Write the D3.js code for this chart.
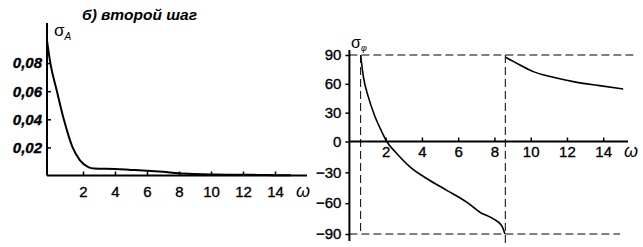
<!DOCTYPE html>
<html>
<head>
<meta charset="utf-8">
<script src="https://cdn.jsdelivr.net/npm/d3@7"></script>
<style>
  body { margin: 0; background: #fff; }
  svg { display: block; font-family: "Liberation Sans", Arial, sans-serif; }
  .axis path { display: none; }
  .axis line { stroke: #000; stroke-width: 1.5; }
  .axis text { fill: #000; stroke: #000; stroke-width: 0.35; }
</style>
</head>
<body>
<div id="chart"></div>
<script>
// left panel: amplitude sigma_A vs omega
var ampOmega = [-0.25, -0.04, 0.37, 0.8, 1.35, 1.8, 2.33, 2.7, 4, 5, 6, 7, 8, 9, 10, 11, 12, 13, 14, 15];
var ampValue = [0.096, 0.08, 0.06, 0.04, 0.02, 0.011, 0.006, 0.005, 0.0046, 0.004, 0.0034, 0.0026, 0.0016, 0.0011, 0.0008, 0.0006, 0.0005, 0.0004, 0.0002, 0.0001];
var ampYTicks = [0.02, 0.04, 0.06, 0.08];
var ampXTicks = [2, 4, 6, 8, 10, 12, 14];

// right panel: phase sigma_phi vs omega, two branches
var phaseOmega1 = [0.62, 0.77, 1.04, 1.41, 1.78, 2.06, 2.6, 3.34, 4.26, 5.37, 6.47, 7.2, 7.94, 8.4, 8.58];
var phaseValue1 = [90, 67.5, 46.7, 26, 10.4, 0, -11.4, -24.6, -36, -47.5, -59, -68.8, -75.3, -81.8, -90];
var phaseOmega2 = [8.62, 9.41, 10.14, 11.25, 12.35, 13.8, 15.1];
var phaseValue2 = [87.6, 79.6, 72.7, 66.8, 62.3, 58.1, 54.7];
var phaseYTicks = [-90, -60, -30, 0, 30, 60, 90];
var phaseXTicks = [2, 4, 6, 8, 10, 12, 14];
var jumpLines = [0.62, 8.6];   // vertical dashed asymptotes

var width = 643, height = 247;

var svg = d3.select("#chart").append("svg")
    .attr("width", width)
    .attr("height", height);

// ---------- left panel ----------
var xA = d3.scaleLinear().domain([-0.25, 16]).range([47, 307]);
var yA = d3.scaleLinear().domain([0, 0.1]).range([175.5, 35]);

var left = svg.append("g");

left.append("text")
    .attr("x", 82).attr("y", 20)
    .attr("textLength", 115).attr("lengthAdjust", "spacingAndGlyphs")
    .style("font-size", "14px").style("font-style", "italic").style("font-weight", "bold")
    .text("б) второй шаг");

left.append("line")
    .attr("x1", xA(-0.25)).attr("x2", xA(-0.25))
    .attr("y1", yA(0)).attr("y2", yA(0.1085))
    .attr("stroke", "#000").attr("stroke-width", 2);
left.append("line")
    .attr("x1", xA(-0.25)).attr("x2", xA(16))
    .attr("y1", yA(0)).attr("y2", yA(0))
    .attr("stroke", "#000").attr("stroke-width", 2);

left.append("g")
    .attr("class", "axis")
    .attr("transform", "translate(" + xA(-0.25) + ",0)")
    .call(d3.axisLeft(yA).tickValues(ampYTicks).tickSizeInner(-4).tickSizeOuter(0).tickPadding(5)
        .tickFormat(d => d3.format(".2f")(d).replace(".", ",")))
    .selectAll("text")
    .style("font-size", "15px").style("font-style", "italic").style("font-weight", "bold");

left.append("g")
    .attr("class", "axis")
    .attr("transform", "translate(0," + yA(0) + ")")
    .call(d3.axisBottom(xA).tickValues(ampXTicks).tickSizeInner(-4).tickSizeOuter(0).tickPadding(11))
    .selectAll("text")
    .style("font-size", "15px");

left.append("text")
    .attr("x", 303).attr("y", 197)
    .attr("text-anchor", "middle")
    .style("font-size", "18px").style("font-style", "italic")
    .text("ω");

var sA = left.append("text")
    .attr("x", 54).attr("y", 36)
    .style("font-size", "17px");
sA.append("tspan").text("σ");
sA.append("tspan").attr("dy", 4).style("font-size", "10px").style("font-style", "italic").text("A");

var ampLine = d3.line()
    .x((d, i) => xA(ampOmega[i]))
    .y(d => yA(d))
    .curve(d3.curveMonotoneX);

left.append("path")
    .datum(ampValue)
    .attr("fill", "none")
    .attr("stroke", "#000")
    .attr("stroke-width", 2)
    .attr("d", ampLine);

// ---------- right panel ----------
var xP = d3.scaleLinear().domain([0, 15.5]).range([349.4, 630.4]);
var yP = d3.scaleLinear().domain([-90, 0, 90]).range([234, 141.5, 55]);

var right = svg.append("g");

// dashed limits
right.selectAll(".hlim")
    .data([90, -90])
    .enter().append("line")
    .attr("x1", xP(0))
    .attr("x2", d => d > 0 ? 634 : 620)
    .attr("y1", d => yP(d)).attr("y2", d => yP(d))
    .attr("stroke", "#000").attr("stroke-width", 1)
    .attr("stroke-dasharray", "8,4");

right.selectAll(".vlim")
    .data(jumpLines)
    .enter().append("line")
    .attr("x1", d => xP(d)).attr("x2", d => xP(d))
    .attr("y1", yP(90)).attr("y2", d => d > 5 ? 247 : yP(-90))
    .attr("stroke", "#000").attr("stroke-width", 1)
    .attr("stroke-dasharray", "8,4");

right.append("line")
    .attr("x1", xP(0)).attr("x2", xP(0))
    .attr("y1", 50).attr("y2", 241)
    .attr("stroke", "#000").attr("stroke-width", 2);
right.append("line")
    .attr("x1", xP(0)).attr("x2", 628)
    .attr("y1", yP(0)).attr("y2", yP(0))
    .attr("stroke", "#000").attr("stroke-width", 2);

right.append("g")
    .attr("class", "axis")
    .attr("transform", "translate(" + xP(0) + ",0)")
    .call(d3.axisLeft(yP).tickValues(phaseYTicks).tickSizeInner(4).tickSizeOuter(0).tickPadding(4))
    .selectAll("text")
    .style("font-size", "15px");

right.append("g")
    .attr("class", "axis")
    .attr("transform", "translate(0," + yP(0) + ")")
    .call(d3.axisBottom(xP).tickValues(phaseXTicks).tickSizeInner(-4).tickSizeOuter(0).tickPadding(5))
    .selectAll("text")
    .style("font-size", "15px");

right.append("text")
    .attr("x", 631).attr("y", 157)
    .attr("text-anchor", "middle")
    .style("font-size", "18px").style("font-style", "italic")
    .text("ω");

var sP = right.append("text")
    .attr("x", 351).attr("y", 48)
    .style("font-size", "16px");
sP.append("tspan").text("σ");
sP.append("tspan").attr("dy", 3).style("font-size", "9px").style("font-style", "italic").text("φ");

var phaseLine = d3.line()
    .x(d => xP(d[0]))
    .y(d => yP(d[1]))
    .curve(d3.curveMonotoneX);

[[phaseOmega1, phaseValue1], [phaseOmega2, phaseValue2]].forEach(br => {
    right.append("path")
        .datum(br[0].map((w, i) => [w, br[1][i]]))
        .attr("fill", "none")
        .attr("stroke", "#000")
        .attr("stroke-width", 1.6)
        .attr("d", phaseLine);
});
</script>
</body>
</html>
